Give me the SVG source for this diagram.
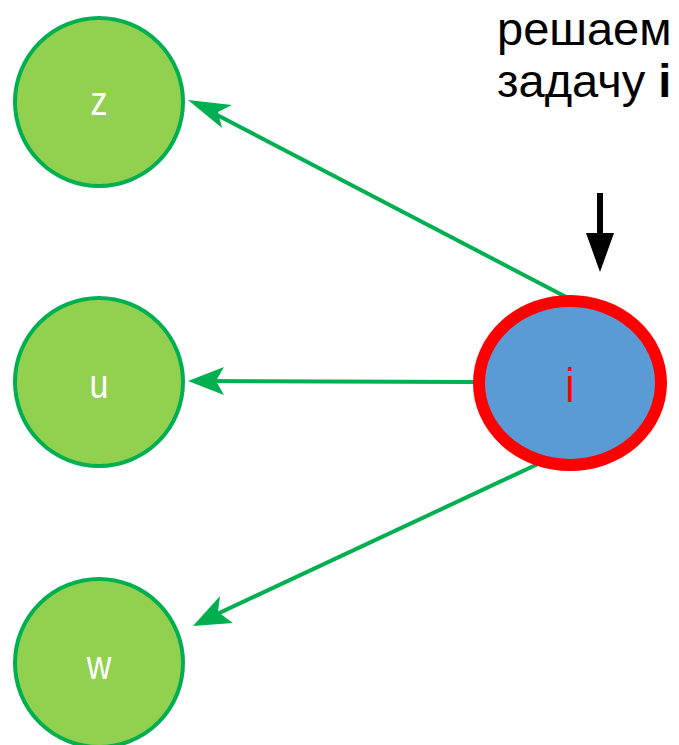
<svg xmlns="http://www.w3.org/2000/svg" width="679" height="745" viewBox="0 0 679 745">
<style>
.n circle{fill:#92d050;stroke:#00b050;stroke-width:4}
.n text{fill:#fff;font-family:"Liberation Sans",Arial,sans-serif;font-size:34px;text-anchor:middle}
.e{stroke:#00b050;stroke-width:4;fill:none}
.h{fill:#00b050}
.t{font-family:"Liberation Sans",Arial,sans-serif;font-size:47px;fill:#000}
</style>
<g id="edges">
<line class="e" x1="568" y1="298" x2="196" y2="104"/>
<path class="h" d="M188,100 L232,105 L218,112 L222,128 Z"/>
<line class="e" x1="477" y1="382" x2="196" y2="381"/>
<path class="h" d="M188,381 L224,367 L216,381 L224,395 Z"/>
<line class="e" x1="540" y1="463" x2="200" y2="622"/>
<path class="h" d="M193,626 L220,596 L218,612 L233,623 Z"/>
<line x1="600" y1="193" x2="600" y2="236" stroke="#000" stroke-width="6"/>
<path d="M586,233 L614,233 L600,272 Z" fill="#000"/>
</g>
<g id="z" class="n"><circle cx="99" cy="102" r="84"/><text transform="translate(99,115) scale(1,1.2)">z</text></g>
<g id="u" class="n"><circle cx="99" cy="382" r="84"/><text transform="translate(99,398) scale(1,1.2)">u</text></g>
<g id="w" class="n"><circle cx="99" cy="663" r="84"/><text transform="translate(99,679) scale(1,1.2)">w</text></g>
<g id="i"><ellipse cx="570" cy="383" rx="91" ry="82" fill="#5b9bd5" stroke="#ff0000" stroke-width="12"/><text transform="translate(570,402) scale(1,1.2)" font-family="Liberation Sans,Arial,sans-serif" font-size="40" fill="#ff0000" text-anchor="middle">i</text></g>
<g id="label">
<text class="t" x="497" y="45">решаем</text>
<text class="t" x="497" y="97">задачу <tspan font-weight="bold">i</tspan></text>
</g>
</svg>
